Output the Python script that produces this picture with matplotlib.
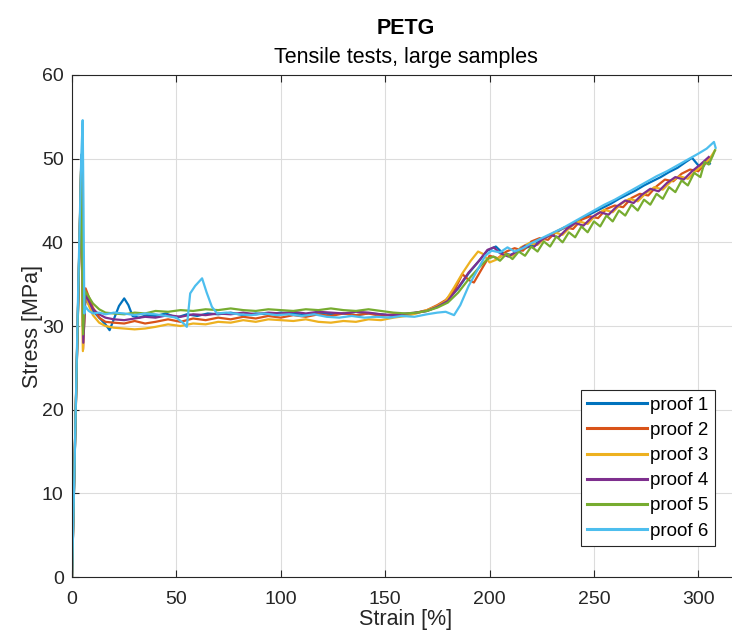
import matplotlib
matplotlib.use('Agg')
import matplotlib.pyplot as plt

plt.rcParams['font.family'] = ['Liberation Sans', 'DejaVu Sans']

# proof 1
strain_1 = [0, 4.5, 5.2, 6.0, 7.5, 10, 13, 16, 18, 20,
            22.5, 25, 27, 29, 32, 36, 40, 45, 50, 55,
            60, 65, 70, 76, 82, 88, 94, 100, 106, 112,
            118, 124, 130, 136, 142, 148, 154, 160, 165, 170,
            175, 180, 185, 190, 195, 199, 203, 206, 210, 214,
            218, 222, 226, 230, 234, 238, 242, 246, 250, 254,
            258, 262, 266, 270, 274, 278, 282, 286, 290, 294,
            297, 300, 302, 304, 305.5]
stress_1 = [0, 50.5, 30.0, 33.5, 32.8, 31.8, 31.0, 30.2, 29.5, 30.8,
            32.4, 33.3, 32.5, 31.2, 31.0, 31.3, 31.2, 31.5, 31.0, 31.4,
            31.2, 31.5, 31.4, 31.6, 31.3, 31.5, 31.4, 31.6, 31.5, 31.3,
            31.6, 31.4, 31.5, 31.3, 31.5, 31.4, 31.2, 31.4, 31.6, 31.8,
            32.3, 33.2, 34.5, 36.3, 37.8, 39.0, 39.5, 38.8, 38.5, 38.9,
            39.4, 39.8, 40.5, 40.9, 41.5, 42.0, 42.5, 43.1, 43.6, 44.1,
            44.6, 45.2, 45.7, 46.2, 46.8, 47.3, 47.8, 48.4, 48.9, 49.6,
            50.1, 49.2, 48.9, 49.7, 49.4]

# proof 2
strain_2 = [0, 4.4, 5.3, 6.5, 8, 10, 13, 16, 20, 25,
            30, 35, 40, 46, 52, 58, 64, 70, 76, 82,
            88, 94, 100, 106, 112, 118, 124, 130, 136, 142,
            148, 154, 160, 165, 170, 175, 179, 183, 187, 190,
            192.5, 196, 200, 204, 208, 212, 216, 220, 224, 228,
            232, 236, 240, 244, 248, 252, 256, 260, 264, 268,
            272, 276, 280, 284, 288, 292, 296, 300, 304, 306.5]
stress_2 = [0, 49.5, 27.2, 34.5, 33.5, 32.2, 31.0, 30.5, 30.4, 30.3,
            30.6, 30.3, 30.5, 30.8, 30.5, 30.9, 30.7, 31.0, 30.8, 31.1,
            30.9, 31.2, 31.0, 31.3, 31.1, 31.4, 31.2, 31.5, 31.3, 31.5,
            31.2, 31.4, 31.3, 31.6, 31.9, 32.5, 33.1, 34.2, 36.2, 35.5,
            35.2, 36.7, 38.4, 38.1, 38.9, 39.3, 39.0, 40.1, 40.5, 40.3,
            41.3, 41.8, 41.6, 42.7, 43.1, 42.9, 44.0, 44.4, 44.2, 45.3,
            45.8, 45.6, 46.7, 47.5, 47.3, 48.2, 48.7, 48.5, 49.6, 50.3]

# proof 3
strain_3 = [0, 4.3, 5.2, 6.3, 8, 10, 13, 16, 20, 25,
            30, 35, 40, 46, 52, 58, 64, 70, 76, 82,
            88, 94, 100, 106, 112, 118, 124, 130, 136, 142,
            148, 154, 160, 165, 170, 175, 179, 183, 187, 191,
            194.5, 197, 200, 203, 207, 211, 215, 219, 223, 227,
            231, 235, 239, 243, 247, 251, 255, 259, 263, 267,
            271, 275, 279, 283, 287, 291, 295, 299, 303, 306, 308]
stress_3 = [0, 48.5, 27.0, 33.5, 32.5, 31.3, 30.4, 30.0, 29.8, 29.7,
            29.6, 29.7, 29.9, 30.2, 30.0, 30.3, 30.2, 30.5, 30.4, 30.7,
            30.5, 30.8, 30.7, 30.6, 30.8, 30.5, 30.4, 30.6, 30.5, 30.8,
            30.7, 31.0, 31.2, 31.5, 31.9, 32.4, 33.0, 34.6, 36.3, 37.8,
            38.9, 38.6, 37.6, 37.9, 38.6, 38.4, 39.4, 39.9, 39.7, 40.6,
            41.2, 40.9, 41.9, 42.5, 42.2, 43.3, 43.9, 43.6, 44.6, 45.2,
            44.9, 45.9, 46.6, 46.3, 47.3, 47.9, 47.6, 48.6, 49.4, 50.2, 51.0]

# proof 4
strain_4 = [0, 4.5, 5.4, 6.5, 8, 10, 13, 16, 20, 25,
            30, 35, 40, 46, 52, 58, 64, 70, 76, 82,
            88, 94, 100, 106, 112, 118, 124, 130, 136, 142,
            148, 154, 160, 165, 170, 175, 180, 185, 190, 195,
            199, 202, 205, 209, 213, 217, 221, 225, 229, 233,
            237, 241, 245, 249, 253, 257, 261, 265, 269, 273,
            277, 281, 285, 289, 293, 297, 301, 305]
stress_4 = [0, 50.0, 28.0, 33.8, 33.0, 32.0, 31.4, 31.0, 30.8, 30.7,
            30.9, 31.1, 31.0, 31.3, 31.1, 31.4, 31.3, 31.5, 31.4, 31.6,
            31.4, 31.6, 31.5, 31.7, 31.5, 31.7, 31.6, 31.5, 31.7, 31.6,
            31.4, 31.3, 31.5, 31.6, 31.8, 32.3, 33.0, 34.6, 36.4, 37.8,
            39.1, 39.4, 38.7, 38.3, 38.9, 39.6, 39.4, 40.3, 40.9, 40.6,
            41.6, 42.3, 42.0, 43.0, 43.6, 43.3, 44.3, 45.0, 44.7, 45.7,
            46.4, 46.1, 47.1, 47.8, 47.5, 48.5, 49.3, 50.2]

# proof 5
strain_5 = [0, 4.4, 5.3, 6.2, 8, 10, 13, 16, 20, 25,
            30, 35, 40, 46, 52, 58, 64, 70, 76, 82,
            88, 94, 100, 106, 112, 118, 124, 130, 136, 142,
            148, 154, 160, 165, 170, 175, 180, 185, 190, 195,
            199, 202, 205, 208, 211, 214, 217, 220, 223, 226,
            229, 232, 235, 238, 241, 244, 247, 250, 253, 256,
            259, 262, 265, 268, 271, 274, 277, 280, 283, 286,
            289, 292, 295, 298, 301, 303, 305, 307, 308]
stress_5 = [0, 49.0, 29.0, 34.2, 33.5, 32.7, 32.0, 31.6, 31.5, 31.4,
            31.6, 31.5, 31.8, 31.7, 31.9, 31.8, 32.0, 31.9, 32.1, 31.9,
            31.8, 32.0, 31.9, 31.8, 32.0, 31.9, 32.1, 31.9, 31.8, 32.0,
            31.8, 31.6, 31.5, 31.6, 31.8, 32.2, 32.8, 34.0, 35.6, 37.0,
            38.0, 38.3, 37.8, 38.6, 38.0, 38.9, 38.4, 39.5, 38.9, 40.1,
            39.5, 40.7, 40.0, 41.2, 40.6, 41.9, 41.2, 42.5, 41.9, 43.2,
            42.5, 43.8, 43.2, 44.5, 43.8, 45.1, 44.5, 45.8, 45.2, 46.6,
            46.0, 47.4, 46.8, 48.3, 47.8, 49.6, 49.3, 50.4, 51.0]

# proof 6
strain_6 = [0, 1.2, 3.0, 4.4, 5.1, 5.5, 5.9, 6.5, 8, 10,
            13, 16, 20, 25, 30, 35, 40, 45, 50, 53.5,
            55, 56.6, 59, 62.3, 64.5, 67, 69.5, 74, 80, 86,
            92, 98, 104, 110, 116, 122, 128, 134, 140, 146,
            152, 158, 164, 170, 175, 179, 183, 186, 190, 194,
            198, 201, 205, 208.6, 212, 216, 220, 225, 230, 235,
            240, 245, 250, 255, 260, 265, 270, 275, 280, 285,
            290, 295, 300, 304, 307.5, 308.3]
stress_6 = [0, 13.0, 35.0, 50.0, 54.6, 44.0, 31.5, 32.3, 31.8, 31.5,
            31.6, 31.4, 31.6, 31.5, 31.3, 31.5, 31.4, 31.2, 31.0, 30.3,
            29.9, 33.9, 34.8, 35.7, 34.0, 32.3, 31.5, 31.6, 31.4, 31.3,
            31.5, 31.3, 31.4, 31.2, 31.4, 31.1, 31.0, 31.2, 31.0, 31.1,
            31.0, 31.2, 31.1, 31.4, 31.6, 31.7, 31.3, 32.5, 34.8, 36.6,
            38.4, 39.0, 38.8, 39.4, 38.9, 39.3, 39.9, 40.5, 41.1, 41.7,
            42.4, 43.1, 43.8, 44.5, 45.1, 45.8, 46.5, 47.2, 47.9, 48.5,
            49.2, 49.9, 50.6, 51.2, 52.0, 51.3]

labels = ['proof 1', 'proof 2', 'proof 3', 'proof 4', 'proof 5', 'proof 6']
colors = ['#0072BD', '#D95319', '#EDB120', '#7E2F8E', '#77AC30', '#4DBEEE']

fig = plt.figure(figsize=(7.32, 6.41), dpi=100)
ax = fig.add_axes([0.0984, 0.0998, 0.9126, 0.7832])

curves = [(strain_1, stress_1), (strain_2, stress_2), (strain_3, stress_3),
          (strain_4, stress_4), (strain_5, stress_5), (strain_6, stress_6)]
for (x, y), lab, c in zip(curves, labels, colors):
    ax.plot(x, y, color=c, lw=1.6, label=lab)

ax.set_xlim(0, 320)
ax.set_ylim(0, 60)
ax.set_xticks([0, 50, 100, 150, 200, 250, 300])
ax.set_yticks([0, 10, 20, 30, 40, 50, 60])
ax.grid(True, color='#dcdcdc', lw=0.8)
ax.set_axisbelow(True)
for s in ax.spines.values():
    s.set_color('#262626')
    s.set_linewidth(0.8)
ax.tick_params(direction='in', top=True, right=True, length=5, width=0.8,
               labelsize=14, colors='#262626')
ax.tick_params(axis='x', pad=10)
ax.tick_params(axis='y', pad=6)

ax.set_xlabel('Strain [%]', fontsize=15.5, color='#262626', labelpad=1)
ax.set_ylabel('Stress [MPa]', fontsize=15.5, color='#262626', labelpad=-1)

cx = 0.0984 + 0.9126 / 2
fig.text(cx, 0.956, 'PETG', ha='center', va='center', fontsize=15.5,
         fontweight='bold', color='black')
fig.text(cx, 0.911, 'Tensile tests, large samples', ha='center', va='center',
         fontsize=15.5, color='black')

leg = ax.legend(loc='upper right', bbox_to_anchor=(715 / 732, 1 - 390 / 641),
                bbox_transform=fig.transFigure, fontsize=13.5, frameon=True,
                fancybox=False, framealpha=1, edgecolor='#262626',
                handlelength=3.2, labelspacing=0.43, borderpad=0.35,
                handletextpad=0.15, borderaxespad=0)
leg.get_frame().set_linewidth(0.8)
for line in leg.get_lines():
    line.set_linewidth(2.2)

fig.savefig('out.png', dpi=100)
